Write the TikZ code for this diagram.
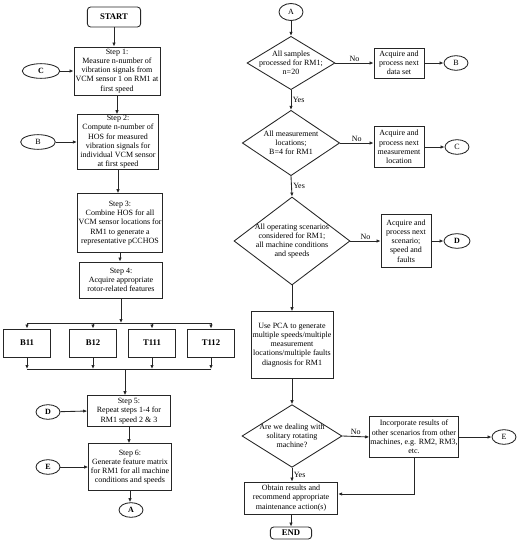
\documentclass[tikz,border=0pt]{standalone}
\usepackage{fontspec}
\setmainfont{Liberation Serif}
\usetikzlibrary{shapes.geometric,arrows.meta}

\tikzset{
  stepbox/.style={draw, rectangle, align=center, inner sep=0.5pt, font=\fontsize{6}{6.9}\selectfont},
  termbox/.style={draw, rectangle, rounded corners=2.5pt, align=center, inner sep=0.5pt, font=\fontsize{6.5}{7}\selectfont\bfseries},
  featbox/.style={draw, rectangle, minimum width=35pt, minimum height=21pt, inner sep=0pt, font=\fontsize{6.5}{7}\selectfont\bfseries},
  onpage/.style={draw, ellipse, minimum width=18pt, minimum height=11pt, inner sep=0pt, font=\fontsize{6}{7}\selectfont},
  decision/.style={draw, diamond, inner sep=0pt},
  dectext/.style={align=center, inner sep=0pt, font=\fontsize{6}{6.9}\selectfont},
  flowlbl/.style={inner sep=1pt, font=\fontsize{6}{7}\selectfont},
  arr/.style={-{Latex[length=3pt,width=2.6pt]}}
}

\begin{document}
\begin{tikzpicture}[x=0.75pt,y=0.75pt,yscale=-1,xscale=1, line width=0.65pt, draw=black!85]
\useasboundingbox (0,0) rectangle (519,550);

%Left column
\node[termbox, minimum width=40pt, minimum height=15pt] (start) at (114,17) {START};
\node[stepbox, minimum width=64.5pt, minimum height=36pt] (s1) at (117,71) {Step 1:\\Measure n-number of\\vibration signals from\\VCM sensor 1 on RM1 at\\first speed};
\node[onpage, minimum width=28pt, font=\fontsize{6}{7}\selectfont\bfseries] (cl) at (41,71) {C};
\node[stepbox, minimum width=61pt, minimum height=41pt] (s2) at (118,142) {Step 2:\\Compute n-number of\\HOS for measured\\vibration signals for\\individual VCM sensor\\at first speed};
\node[onpage, minimum width=26pt] (bl) at (38,142) {B};
\node[stepbox, minimum width=62pt, minimum height=44pt] (s3) at (120,223) {Step 3:\\Combine HOS for all\\VCM sensor locations for\\RM1 to generate a\\representative pCCHOS};
\node[stepbox, minimum width=62pt, minimum height=27pt] (s4) at (121,280) {Step 4:\\Acquire appropriate\\rotor-related features};

%Feature boxes
\node[featbox] (b11) at (27,343) {B11};
\node[featbox] (b12) at (93,343) {B12};
\node[featbox] (t111) at (152,343) {T111};
\node[featbox] (t112) at (211,343) {T112};
\coordinate (topbus) at (121,323);
\coordinate (botbus) at (125,369);

\node[stepbox, minimum width=62pt, minimum height=23pt] (s5) at (129,411) {Step 5:\\Repeat steps 1-4 for\\RM1 speed 2 \& 3};
\node[onpage, font=\fontsize{6}{7}\selectfont\bfseries] (dl) at (48,412) {D};
\node[stepbox, minimum width=62pt, minimum height=35pt] (s6) at (130,467) {Step 6:\\Generate feature matrix\\for RM1 for all machine\\conditions and speeds};
\node[onpage, font=\fontsize{6}{7}\selectfont\bfseries] (el) at (48,467) {E};
\node[onpage, font=\fontsize{6}{7}\selectfont\bfseries] (al) at (131,510) {A};

\draw[arr] (start.south) -- (start.south |- s1.north);
\draw[arr] (cl) -- (s1.west);
\draw[arr] (s1.south) -- (s1.south |- s2.north);
\draw[arr] (bl) -- (s2.west);
\draw[arr] (s2.south) -- (s2.south |- s3.north);
\draw[arr] (s3.south) -- (s3.south |- s4.north);
\draw[arr] (s4.south) -- (topbus);
\draw (topbus -| b11.north) -- (topbus -| t112.north);
\foreach \f in {b11,b12,t111,t112}{
  \draw[arr] (topbus -| \f.north) -- (\f.north);
  \draw[arr] (\f.south) -- (botbus -| \f.south);
}
\draw (botbus -| b11.south) -- (botbus -| t112.south);
\draw[arr] (botbus) -- (botbus |- s5.north);
\draw[arr] (dl) -- (s5.west);
\draw[arr] (s5.south) -- (s5.south |- s6.north);
\draw[arr] (el) -- (s6.west);
\draw[arr] (s6.south) -- (s6.south |- al.north);

%Right column
\node[onpage, minimum height=12.75pt] (ar) at (291,12) {A};
\node[decision, minimum width=66pt, minimum height=40pt] (d1) at (291,63) {};
\node[dectext] (d1t) at (d1) {All samples\\processed for RM1;\\n=20};
\node[stepbox, minimum width=37.5pt, minimum height=22.5pt] (r1) at (399,63) {Acquire and\\process next\\data set};
\node[onpage] (br) at (456,63) {B};

\node[decision, minimum width=73pt, minimum height=49pt] (d2) at (291,143) {};
\node[dectext] (d2t) at (d2) {All measurement\\locations;\\B=4 for RM1};
\node[stepbox, minimum width=37.5pt, minimum height=31pt] (r2) at (399,147) {Acquire and\\process next\\measurement\\location};
\node[onpage] (cr) at (457,147) {C};

\node[decision, minimum width=87pt, minimum height=66pt] (d3) at (292,241) {};
\node[dectext] (d3t) at (d3) {All operating scenarios\\considered for RM1;\\all machine conditions\\and speeds};
\node[stepbox, minimum width=37.5pt, minimum height=40pt] (r3) at (406,241) {Acquire and\\process next\\scenario;\\speed and\\faults};
\node[onpage, minimum width=19.5pt, font=\fontsize{6}{7}\selectfont\bfseries] (dr) at (457,241) {D};

\node[stepbox, minimum width=61.5pt, minimum height=50pt] (pca) at (292,345) {Use PCA to generate\\multiple speeds/multiple\\measurement\\locations/multiple faults\\diagnosis for RM1};

\node[decision, minimum width=75pt, minimum height=47pt] (d4) at (292,436) {};
\node[dectext] (d4t) at (d4) {Are we dealing with\\solitary rotating\\machine?};
\node[stepbox, minimum width=65pt, minimum height=31pt] (r4) at (414,437) {Incorporate results of\\other scenarios from other\\machines, e.g. RM2, RM3,\\etc.};
\node[onpage] (er) at (504,437) {E};

\node[stepbox, minimum width=70pt, minimum height=24pt] (obt) at (291,498) {Obtain results and\\recommend appropriate\\maintenance action(s)};
\node[termbox, minimum width=31pt, minimum height=9pt] (end) at (291,533) {END};

\draw[arr] (ar) -- (d1.north);
\draw[arr] (d1.south) -- node[flowlbl, right] {Yes} (d2.north);
\draw[arr] (d2.south) -- node[flowlbl, right] {Yes} (d3.north);
\draw[arr] (d3.south) -- (pca.north -| d3.south);
\draw[arr] (pca.south -| d4.north) -- (d4.north);
\draw[arr] (d4.south) -- node[flowlbl, right] {Yes} (obt.north -| d4.south);
\draw[arr] (obt.south -| end.north) -- (end.north);

\draw[arr] (d1.east) -- node[flowlbl, above] {No} (r1.west);
\draw[arr] (r1.east) -- (br.west);
\draw[arr] (d2.east) -- node[flowlbl, above] {No} (d2.east -| r2.west);
\draw[arr] (r2.east |- cr.west) -- (cr.west);
\draw[arr] (d3.east) -- node[flowlbl, above] {No} (r3.west);
\draw[arr] (r3.east) -- (dr.west);
\draw[arr] (d4.east) -- node[flowlbl, above] {No} (r4.west);
\draw[arr] (r4.east) -- (er.west);
\draw[arr] (r4.south) |- ([yshift=-3pt]obt.east);
\end{tikzpicture}
\end{document}
